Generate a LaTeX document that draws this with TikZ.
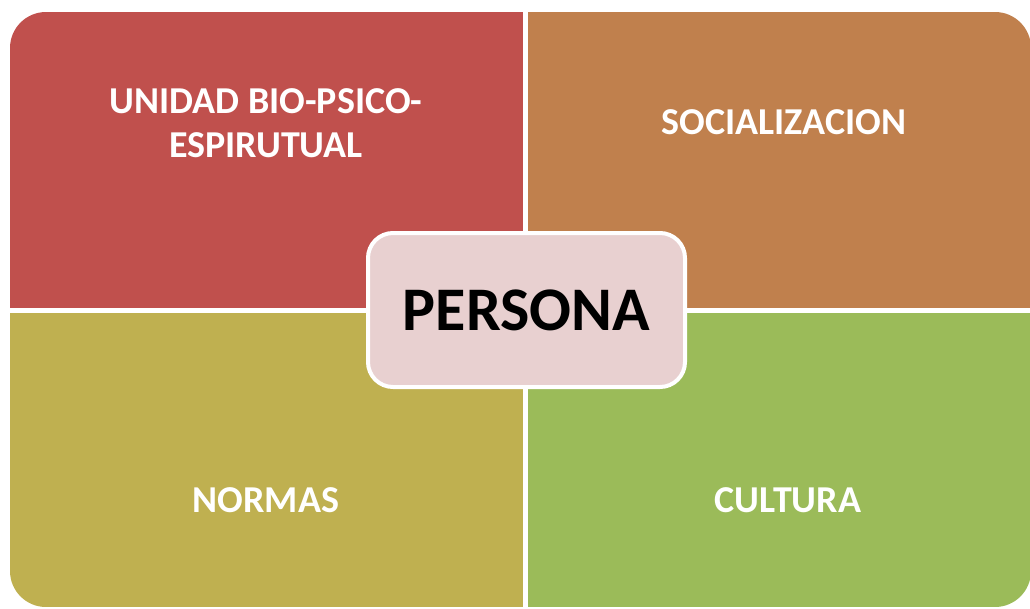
\documentclass[tikz,border=0pt]{standalone}
\usepackage{fontspec}
\setmainfont{Carlito}
\usetikzlibrary{positioning}

\definecolor{quadred}{HTML}{C0504D}
\definecolor{quadorange}{HTML}{C0804D}
\definecolor{quadolive}{HTML}{BFB050}
\definecolor{quadgreen}{HTML}{9BBB59}
\definecolor{centerpink}{HTML}{E8D0D0}

\tikzset{
  quadlabel/.style={text=white, font=\fontsize{38}{44}\selectfont\bfseries, align=center},
  centerbox/.style={draw=white, line width=4pt, fill=centerpink, rounded corners=25pt,
    minimum width=317pt, minimum height=154pt, font=\fontsize{62}{70}\selectfont\bfseries}
}

\begin{document}
\begin{tikzpicture}[x=1pt, y=-1pt]
        \useasboundingbox (0,0) rectangle (1030,608);

        % Four quadrants inside one rounded outline
        \begin{scope}
            \clip[rounded corners=36pt] (10,12) rectangle (1031,607);
            \fill[quadred]    (10,12)    rectangle (522.5,307.5);
            \fill[quadorange] (527.5,12) rectangle (1031,307.5);
            \fill[quadolive]  (10,312.5) rectangle (522.5,607);
            \fill[quadgreen]  (527.5,312.5) rectangle (1031,607);
        \end{scope}

        % Quadrant labels
        \node[quadlabel] (bio) at (266,123) {UNIDAD BIO-PSICO-\\ESPIRUTUAL};
        \node[quadlabel] (social) at (784,122) {SOCIALIZACION};
        \node[quadlabel] (normas) at (266,500) {NORMAS};
        \node[quadlabel] (cultura) at (788,500) {CULTURA};

        % Centre box
        \node[centerbox] (persona) at (526.5,310) {PERSONA};
\end{tikzpicture}
\end{document}
